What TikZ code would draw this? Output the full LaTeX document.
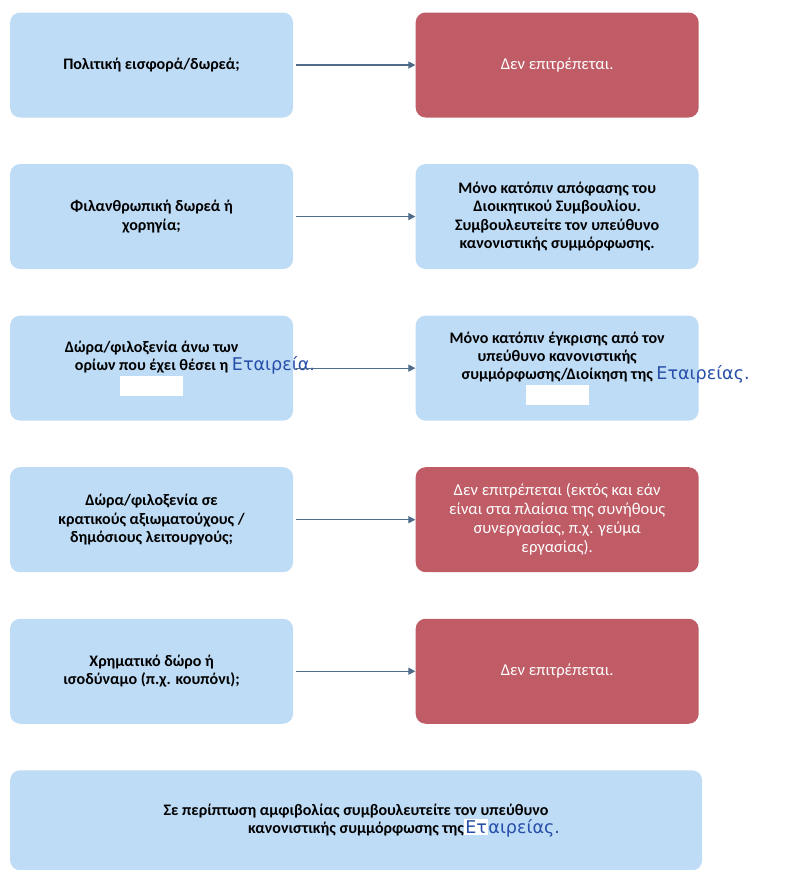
\documentclass[tikz,border=0pt]{standalone}
\usepackage{fontspec}
\setmainfont{Carlito}
\newfontfamily\handfont{DejaVu Sans}
\usetikzlibrary{arrows.meta,positioning}

\definecolor{askblue}{RGB}{190,220,246}
\definecolor{nored}{RGB}{191,92,102}
\definecolor{penblue}{RGB}{38,78,168}
\definecolor{flowgrey}{RGB}{78,108,138}
\newcommand{\hand}[1]{{\handfont\mdseries\fontsize{12.5}{13}\selectfont\color{penblue}#1}}
\newcommand{\blankout}{{\color{white}\rule{1.575cm}{0.5cm}}}

\begin{document}
\begin{tikzpicture}[>={Triangle[length=5pt,width=5pt]},node distance=1.15cm and 3.05cm,
  ask/.style={rectangle,rounded corners=2.5mm,fill=askblue,minimum width=7.075cm,
    minimum height=2.625cm,align=center,font=\fontsize{11.4}{13}\selectfont\bfseries},
  allow/.style={ask},
  deny/.style={ask,fill=nored,text=white,font=\fontsize{11.8}{13.5}\selectfont},
  flow/.style={draw=flowgrey,line width=0.9pt,->,shorten <=2pt}]
  \useasboundingbox (0,0) rectangle (19.725,-21.75);

  \node[ask]   (POLITICAL)   at (3.79,-1.625)          {Πολιτική εισφορά/δωρεά;};
  \node[deny]  (POLNO)       [right=of POLITICAL]      {Δεν επιτρέπεται.};

  \node[ask]   (CHARITY)     [below=of POLITICAL]      {Φιλανθρωπική δωρεά ή\\χορηγία;};
  \node[allow] (CHARYES)     [right=of CHARITY]        {Μόνο κατόπιν απόφασης του\\Διοικητικού Συμβουλίου.\\Συμβουλευτείτε τον υπεύθυνο\\κανονιστικής συμμόρφωσης.};

  \node[ask]   (HOSPITALITY) [below=of CHARITY]        {Δώρα/φιλοξενία άνω των\\ορίων που έχει θέσει η\rlap{ \hand{Εταιρεία.}}\\\blankout};
  \node[allow] (HOSPYES)     [right=of HOSPITALITY]    {Μόνο κατόπιν έγκρισης από τον\\υπεύθυνο κανονιστικής\\συμμόρφωσης/Διοίκηση της\rlap{ \hand{Εταιρείας.}}\\\blankout};

  \node[ask]   (OFFICIALS)   [below=of HOSPITALITY]    {Δώρα/φιλοξενία σε\\κρατικούς αξιωματούχους /\\δημόσιους λειτουργούς;};
  \node[deny]  (OFFNO)       [right=of OFFICIALS]      {Δεν επιτρέπεται (εκτός και εάν\\είναι στα πλαίσια της συνήθους\\συνεργασίας, π.χ. γεύμα\\εργασίας).};

  \node[ask]   (CASH)        [below=of OFFICIALS]      {Χρηματικό δώρο ή\\ισοδύναμο (π.χ. κουπόνι);};
  \node[deny]  (CASHNO)      [right=of CASH]           {Δεν επιτρέπεται.};

  \node[below=1.15cm of CASH.south west,anchor=north west,ask,minimum width=17.3cm,minimum height=2.5cm] (DOUBT)
    {Σε περίπτωση αμφιβολίας συμβουλευτείτε τον υπεύθυνο\\κανονιστικής συμμόρφωσης της\rlap{{\fboxsep=1pt\colorbox{white}{\hand{Ετ}}}\hand{αιρείας.}}};

  \path
    (POLITICAL)   edge[flow] (POLNO)
    (CHARITY)     edge[flow] (CHARYES)
    (HOSPITALITY) edge[flow] (HOSPYES)
    (OFFICIALS)   edge[flow] (OFFNO)
    (CASH)        edge[flow] (CASHNO);
\end{tikzpicture}
\end{document}
